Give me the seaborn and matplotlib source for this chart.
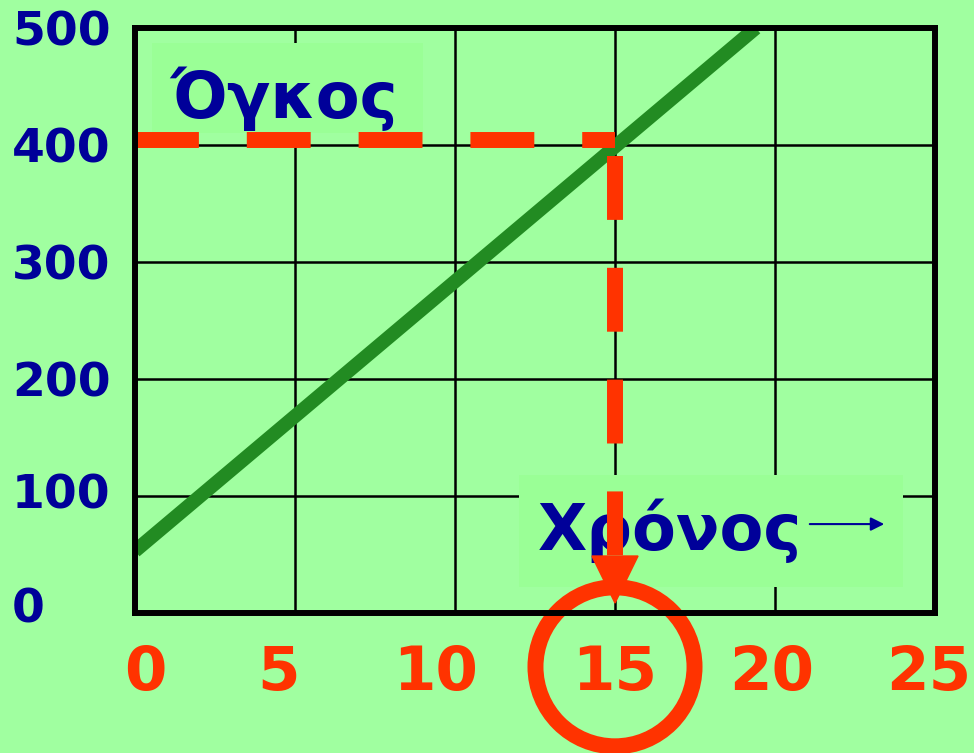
import numpy as np
import pandas as pd
import matplotlib
matplotlib.use("Agg")
import matplotlib.pyplot as plt
import matplotlib.transforms as mtransforms
from matplotlib.patches import Rectangle, Ellipse
import seaborn as sns

# data
time_vals = [0, 19.4]
volume_vals = [53, 500]
x_ticks = [0, 5, 10, 15, 20, 25]
y_ticks = [0, 100, 200, 300, 400, 500]
x_tick_labels = ["0", "5", "10", "15", "20", "25"]
y_tick_labels = ["0", "100", "200", "300", "400", "500"]
guide_x = 15
guide_y = 404
guide_v_top = 390.6
guide_v_bottom = 48.7
arrow_tip = 8.5
arrow_halfwidth = 0.72
ylabel_text = "Όγκος"
xlabel_text = "Χρόνος"

# the slide's labels sit a bit off their ticks (pixels)
x_label_shift = [10, -16, -19, 0, -3, -6]
y_label_shift = [8, 5, 0, 0, 0, 0]

bg = "#A0FFA0"
box_col = "#9AFF96"
navy = "#000099"
red = "#FF3300"
green = "#228B22"

sns.set_style("white")
plt.rcParams['font.family'] = ['DejaVu Sans']

fig = plt.figure(figsize=(9.74, 7.53), dpi=100, facecolor=bg)
ax = fig.add_axes([135/974, 140/753, 800/974, 585/753], facecolor=bg)

df = pd.DataFrame({"t": time_vals, "v": volume_vals})
sns.lineplot(data=df, x="t", y="v", color=green, linewidth=10, ax=ax,
             solid_capstyle="butt", zorder=3)

ax.set_xlim(0, 25)
ax.set_ylim(0, 500)
ax.set_xticks(x_ticks)
ax.set_yticks(y_ticks)
ax.set_xticklabels(x_tick_labels, fontsize=44, fontweight="bold", color=red)
ax.set_yticklabels(y_tick_labels, fontsize=34, fontweight="bold", color=navy)
ax.tick_params(axis="y", length=0, pad=88.5)
ax.tick_params(axis="x", length=0, pad=22)
for lab, dx in zip(ax.get_xticklabels(), x_label_shift):
    lab.set_transform(lab.get_transform() + mtransforms.ScaledTranslation(dx/100, 0, fig.dpi_scale_trans))
for lab, dy in zip(ax.get_yticklabels(), y_label_shift):
    lab.set_horizontalalignment("left")
    lab.set_transform(lab.get_transform() + mtransforms.ScaledTranslation(0, dy/100, fig.dpi_scale_trans))
ax.set_xlabel("")
ax.set_ylabel("")
ax.grid(True, color="black", linewidth=1.8)
ax.set_axisbelow(True)
for s in ax.spines.values():
    s.set_color("black")
    s.set_linewidth(4.3)
    s.set_zorder(6)

# label boxes
ax.add_patch(Rectangle((0.53, 410), 8.47, 77, facecolor=box_col, edgecolor="none", zorder=2))
ax.add_patch(Rectangle((12.0, 22.2), 12.0, 95.8, facecolor=box_col, edgecolor="none", zorder=2))
ax.text(1.09, 423, ylabel_text, fontsize=46, fontweight="bold", color=navy,
        ha="left", va="baseline", zorder=4)
ax.text(12.6, 53.8, xlabel_text, fontsize=46, fontweight="bold", color=navy,
        ha="left", va="baseline", zorder=4)
ax.annotate("", xy=(23.5, 76), xytext=(21.0, 76),
            arrowprops=dict(arrowstyle="-|>", color=navy, lw=1.5, mutation_scale=20),
            zorder=4)

# red guide lines
ax.plot([0, guide_x], [guide_y, guide_y], color=red, linewidth=11.5,
        dashes=(4, 3), dash_capstyle="butt", zorder=5)
ax.plot([guide_x, guide_x], [guide_v_top, guide_v_bottom], color=red, linewidth=11.5,
        dashes=(4, 3), dash_capstyle="butt", zorder=5)
ax.fill([guide_x - arrow_halfwidth, guide_x + arrow_halfwidth, guide_x],
        [guide_v_bottom, guide_v_bottom, arrow_tip], color=red, zorder=5, clip_on=False)

# circle round the 15
ax.add_patch(Ellipse((guide_x, -46), 4.97, 135.9, facecolor="none", edgecolor=red,
                     linewidth=11.5, clip_on=False, zorder=5))

fig.savefig("out.png", dpi=100, facecolor=bg)
